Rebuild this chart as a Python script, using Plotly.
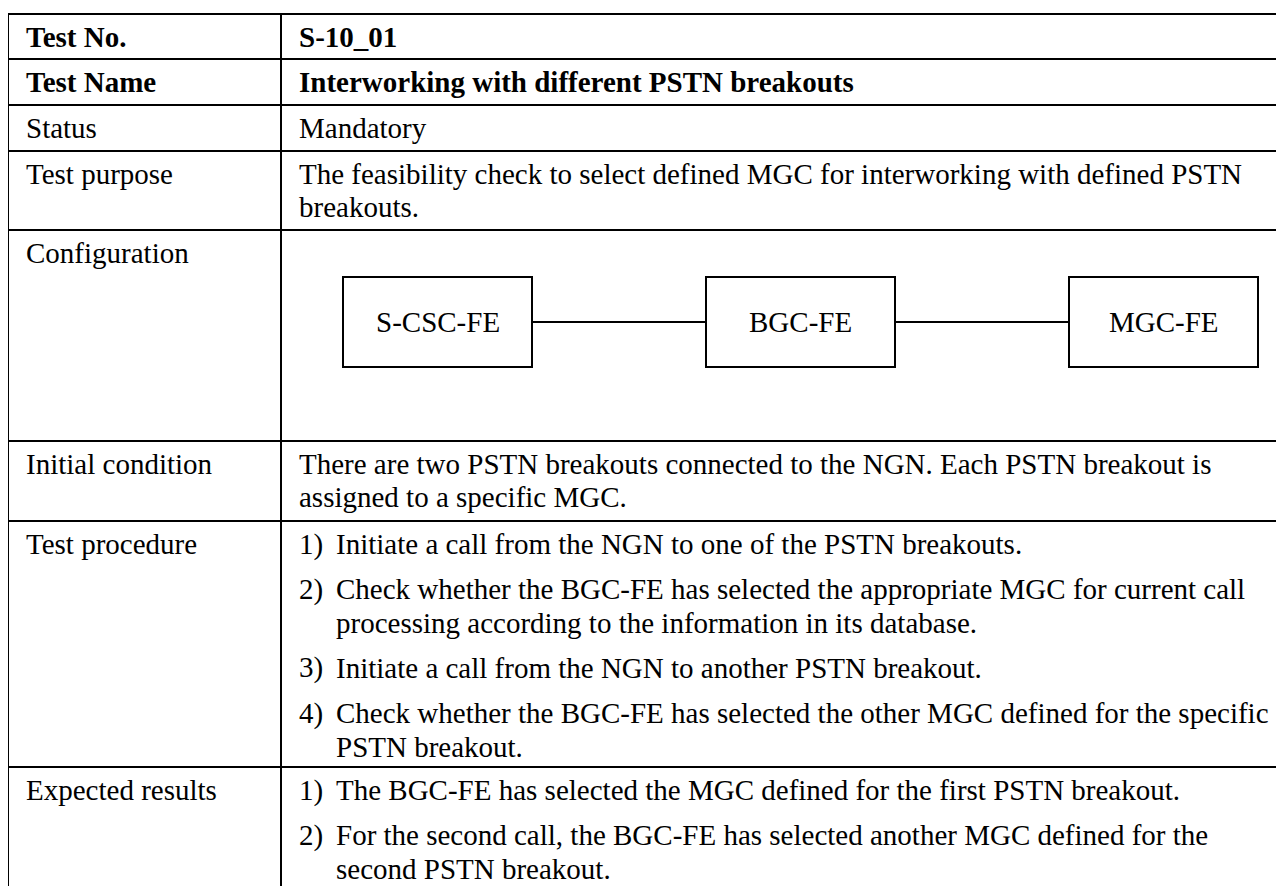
import plotly.graph_objects as go

# ---------------- data ----------------
field_labels = ["Test No.", "Test Name", "Status", "Test purpose", "Configuration",
                "Initial condition", "Test procedure", "Expected results"]
bold_rows = [True, True, False, False, False, False, False, False]

# each value: list of items; each item: (number or None, [wrapped lines])
field_values = [
    [(None, ["S-10_01"])],
    [(None, ["Interworking with different PSTN breakouts"])],
    [(None, ["Mandatory"])],
    [(None, ["The feasibility check to select defined MGC for interworking with defined PSTN",
             "breakouts."])],
    [],
    [(None, ["There are two PSTN breakouts connected to the NGN. Each PSTN breakout is",
             "assigned to a specific MGC."])],
    [("1)", ["Initiate a call from the NGN to one of the PSTN breakouts."]),
     ("2)", ["Check whether the BGC-FE has selected the appropriate MGC for current call",
             "processing according to the information in its database."]),
     ("3)", ["Initiate a call from the NGN to another PSTN breakout."]),
     ("4)", ["Check whether the BGC-FE has selected the other MGC defined for the specific",
             "PSTN breakout."])],
    [("1)", ["The BGC-FE has selected the MGC defined for the first PSTN breakout."]),
     ("2)", ["For the second call, the BGC-FE has selected another MGC defined for the",
             "second PSTN breakout."])],
]
diagram_nodes = ["S-CSC-FE", "BGC-FE", "MGC-FE"]

# ---------------- layout constants (page pixels) ----------------
PAGE_W, PAGE_H = 1284, 886
OFF = 8  # default body margin of the html page
row_tops = [14, 59, 105, 151, 230, 441, 521, 767]
table_left, col_div, table_right, table_bottom = 8, 281, 1295, 900
lab_x, val_x, ind_x = 24, 297, 334
LINE, GAP, FIRST = 33.3, 12, 23
FONT = "Liberation Serif, Times New Roman, serif"
FS = 29
LW = 2

shapes = []
annotations = []

def hline(y, x0=table_left, x1=table_right):
    shapes.append(dict(type="line", x0=x0, x1=x1, y0=y, y1=y, xref="x", yref="y",
                       line=dict(color="black", width=LW)))

def vline(x, y0=row_tops[0], y1=table_bottom):
    shapes.append(dict(type="line", x0=x, x1=x, y0=y0, y1=y1, xref="x", yref="y",
                       line=dict(color="black", width=LW)))

for y in row_tops:
    hline(y)
vline(table_left)
vline(col_div)
vline(table_right)

def add_text(x, y, text, bold=False):
    annotations.append(dict(x=x, y=y, xref="x", yref="y", text=text, showarrow=False,
                            xanchor="left", yanchor="middle",
                            font=dict(family=FONT, size=FS, color="black",
                                      weight=700 if bold else 400)))

for label, items, top, bold in zip(field_labels, field_values, row_tops, bold_rows):
    add_text(lab_x, top + FIRST, label, bold)
    y = top + FIRST
    for i, (num, lines) in enumerate(items):
        if i > 0:
            y += LINE + GAP
        for j, ln in enumerate(lines):
            if j > 0:
                y += LINE
            if num is None:
                add_text(val_x, y, ln, bold)
            else:
                if j == 0:
                    add_text(val_x, y, num, bold)
                add_text(ind_x, y, ln, bold)

# configuration diagram
box_left0, box_step, box_w = 343, 363, 189
box_top, box_bot = 277, 367
mid = (box_top + box_bot) / 2
for i, name in enumerate(diagram_nodes):
    x0 = box_left0 + i * box_step
    shapes.append(dict(type="rect", x0=x0, x1=x0 + box_w, y0=box_top, y1=box_bot,
                       xref="x", yref="y", line=dict(color="black", width=LW),
                       fillcolor="white"))
    annotations.append(dict(x=x0 + box_w / 2, y=mid, xref="x", yref="y", text=name,
                            showarrow=False, xanchor="center", yanchor="middle",
                            font=dict(family=FONT, size=FS, color="black")))
    if i > 0:
        shapes.append(dict(type="line", x0=x0 - box_step + box_w, x1=x0, y0=mid, y1=mid,
                           xref="x", yref="y", line=dict(color="black", width=LW)))

fig = go.Figure()
fig.update_layout(
    width=PAGE_W - OFF, height=PAGE_H - OFF, margin=dict(l=0, r=0, t=0, b=0),
    paper_bgcolor="white", plot_bgcolor="white",
    xaxis=dict(range=[OFF, PAGE_W], visible=False, fixedrange=True),
    yaxis=dict(range=[PAGE_H, OFF], visible=False, fixedrange=True),
    shapes=shapes, annotations=annotations, showlegend=False,
)
fig.write_html("out.html")
